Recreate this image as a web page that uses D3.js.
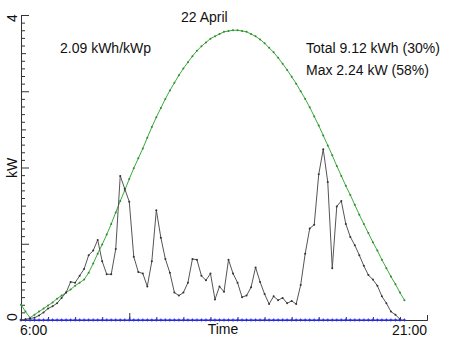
<!DOCTYPE html>
<html>
<head>
<meta charset="utf-8">
<script src="https://cdn.jsdelivr.net/npm/d3@7"></script>
<style>
  body { margin: 0; background: #fff; }
  text { font-family: "Liberation Sans", Arial, Helvetica, sans-serif; fill: #111; }
</style>
</head>
<body>
<div id="chart"></div>
<script>
// measured output, every 10 minutes from 6:00 (kW)
const startMinutes = 6 * 60;
const stepMinutes = 10;

const measured = [
    0, 0.01, 0.02, 0.03, 0.06, 0.10, 0.15, 0.18, 0.22, 0.29, 0.36, 0.50,
    0.49, 0.58, 0.67, 0.85, 0.91, 1.05, 0.77, 0.60, 0.60, 0.93, 1.89, 1.72,
    1.55, 0.83, 0.63, 0.61, 0.44, 0.77, 1.44, 1.08, 0.80, 0.62, 0.36, 0.32,
    0.36, 0.49, 0.80, 0.79, 0.58, 0.52, 0.61, 0.27, 0.44, 0.37, 0.79, 0.61,
    0.49, 0.30, 0.32, 0.43, 0.69, 0.50, 0.34, 0.21, 0.31, 0.26, 0.29, 0.22,
    0.25, 0.21, 0.46, 0.87, 1.20, 1.25, 1.91, 2.24, 1.81, 0.68, 1.49, 1.56,
    1.26, 1.09, 0.98, 0.85, 0.71, 0.59, 0.53, 0.45, 0.31, 0.22, 0.11, 0.07, 0.01
];

// clear sky estimate (green)
const clearSky = [
    0.20, 0.11, 0.03, 0.07, 0.11, 0.15, 0.19, 0.23, 0.28, 0.32, 0.36, 0.40,
    0.45, 0.49, 0.53, 0.62, 0.74, 0.87, 0.99, 1.12, 1.26, 1.41, 1.56, 1.70,
    1.85, 1.99, 2.12, 2.25, 2.39, 2.53, 2.66, 2.78, 2.90, 3.01, 3.11, 3.21,
    3.30, 3.38, 3.46, 3.53, 3.59, 3.64, 3.69, 3.72, 3.75, 3.78, 3.79, 3.80,
    3.80, 3.79, 3.78, 3.75, 3.72, 3.68, 3.63, 3.57, 3.51, 3.44, 3.36, 3.28,
    3.19, 3.10, 3.00, 2.90, 2.79, 2.67, 2.55, 2.42, 2.29, 2.16, 2.02, 1.89,
    1.76, 1.64, 1.51, 1.38, 1.26, 1.14, 1.02, 0.91, 0.79, 0.68, 0.57, 0.47,
    0.36, 0.26
];

// blue baseline series
const baseline = [
    0, 0, 0, 0, 0, 0, 0, 0, 0, 0, 0, 0, 0, 0, 0, 0, 0, 0, 0, 0, 0, 0,
    0, 0, 0, 0, 0, 0, 0, 0, 0, 0, 0, 0, 0, 0, 0, 0, 0, 0, 0, 0, 0, 0,
    0, 0, 0, 0, 0, 0, 0, 0, 0, 0, 0, 0, 0, 0, 0, 0, 0, 0, 0, 0, 0, 0,
    0, 0, 0, 0, 0, 0, 0, 0, 0, 0, 0, 0, 0, 0, 0, 0, 0, 0, 0, 0
];

const xTickLabels = ["6:00", "21:00"];
const yTickLabels = ["0", "4"];
const title = "22 April";
const notes = ["2.09 kWh/kWp", "Total 9.12 kWh (30%)", "Max 2.24 kW (58%)"];

const width = 452, height = 339;
const fontSize = "14px";

const svg = d3.select("#chart").append("svg")
    .attr("width", width)
    .attr("height", height);

const x = d3.scaleLinear().domain([6 * 60, 21 * 60]).range([21, 427]);
const y = d3.scaleLinear().domain([0, 4]).range([320, 15]);

const toPoints = arr => arr.map((v, i) => ({ t: startMinutes + i * stepMinutes, v: v }));

// y axis, ticks pointing inwards
const yMinor = d3.range(0, 41).map(d => d / 10).filter(d => d % 0.5 !== 0);
svg.append("g")
    .attr("transform", "translate(21,0)")
    .call(d3.axisRight(y).tickValues(yMinor).tickSize(4).tickSizeOuter(0).tickFormat(""));
svg.append("g")
    .attr("transform", "translate(21,0)")
    .call(d3.axisRight(y).tickValues([0.5, 1.5, 2.5, 3.5]).tickSize(5).tickSizeOuter(0).tickFormat(""));
svg.append("g")
    .attr("transform", "translate(21,0)")
    .call(d3.axisRight(y).tickValues([1, 2, 3, 4]).tickSize(8).tickSizeOuter(0).tickFormat(""));

// x axis, ticks pointing up
svg.append("g")
    .attr("transform", "translate(0,320)")
    .call(d3.axisTop(x).tickValues(d3.range(7, 21).map(h => h * 60)).tickSize(3).tickSizeOuter(0).tickFormat(""));
svg.append("g")
    .attr("transform", "translate(0,320)")
    .call(d3.axisTop(x).tickValues([10 * 60]).tickSize(7).tickSizeOuter(0).tickFormat(""));
svg.append("g")
    .attr("transform", "translate(0,320)")
    .call(d3.axisTop(x).tickValues([21 * 60]).tickSize(5).tickSizeOuter(0).tickFormat(""));

svg.selectAll(".domain, .tick line").attr("stroke", "#333");

// axis labels
svg.append("text").attr("x", x(6 * 60) - 1).attr("y", 335)
    .attr("font-size", fontSize).text(xTickLabels[0]);
svg.append("text").attr("x", x(21 * 60)).attr("y", 335)
    .attr("text-anchor", "end").attr("font-size", fontSize).text(xTickLabels[1]);
svg.append("text").attr("x", 223).attr("y", 334)
    .attr("text-anchor", "middle").attr("font-size", fontSize).text("Time");

svg.append("text")
    .attr("transform", `translate(17,${y(0) - 3}) rotate(-90)`)
    .attr("text-anchor", "middle").attr("font-size", fontSize).text(yTickLabels[0]);
svg.append("text")
    .attr("transform", `translate(17,${y(4) + 3}) rotate(-90)`)
    .attr("text-anchor", "middle").attr("font-size", fontSize).text(yTickLabels[1]);
svg.append("text")
    .attr("transform", "translate(17,168) rotate(-90)")
    .attr("text-anchor", "middle").attr("font-size", fontSize).text("kW");

// title and notes
svg.append("text").attr("x", 181).attr("y", 22).attr("font-size", fontSize).text(title);
svg.append("text").attr("x", 60).attr("y", 53).attr("font-size", fontSize).text(notes[0]);
svg.append("text").attr("x", 306).attr("y", 53).attr("font-size", fontSize).text(notes[1]);
svg.append("text").attr("x", 306).attr("y", 75).attr("font-size", fontSize).text(notes[2]);

const line = d3.line().x(d => x(d.t)).y(d => y(d.v));

// blue baseline with + markers
const bluePts = toPoints(baseline);
svg.append("path").datum(bluePts)
    .attr("d", line).attr("fill", "none").attr("stroke", "#2b2bff").attr("stroke-width", 1);
svg.append("g").selectAll("path").data(bluePts).join("path")
    .attr("d", d => `M${x(d.t) - 1.5},${y(d.v)}h3M${x(d.t)},${y(d.v) - 1.5}v3`)
    .attr("stroke", "#2b2bff").attr("stroke-width", 1);

// clear sky curve
const greenPts = toPoints(clearSky);
svg.append("path").datum(greenPts)
    .attr("d", line).attr("fill", "none").attr("stroke", "#3cab3c").attr("stroke-width", 1);
svg.append("g").selectAll("circle").data(greenPts).join("circle")
    .attr("cx", d => x(d.t)).attr("cy", d => y(d.v)).attr("r", 1)
    .attr("fill", "#2e8b2e");

// measured output
const blackPts = toPoints(measured);
svg.append("path").datum(blackPts)
    .attr("d", line).attr("fill", "none").attr("stroke", "#555").attr("stroke-width", 1);
svg.append("g").selectAll("circle").data(blackPts).join("circle")
    .attr("cx", d => x(d.t)).attr("cy", d => y(d.v)).attr("r", 1)
    .attr("fill", "#333");
</script>
</body>
</html>
